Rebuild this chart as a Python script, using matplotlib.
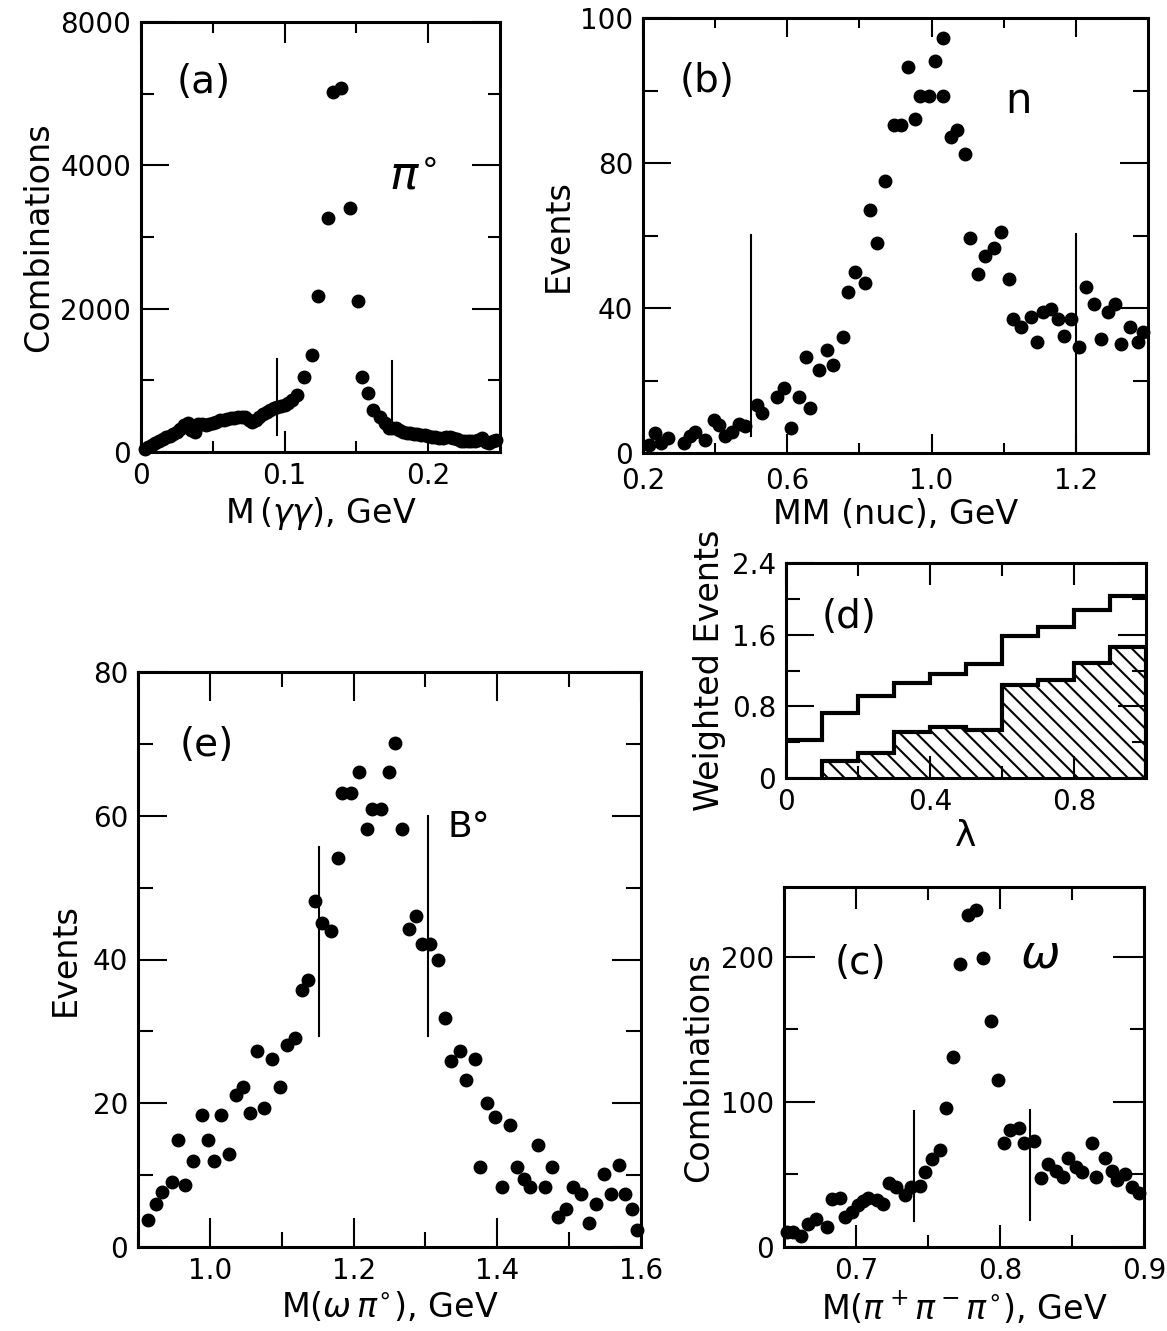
import numpy as np
import matplotlib
matplotlib.use('Agg')
import matplotlib.pyplot as plt

plt.rcParams['font.family'] = ['DejaVu Sans']
plt.rcParams['hatch.linewidth'] = 1.5
plt.rcParams['mathtext.fontset'] = 'dejavusans'

# ---- panel (a): M(gamma gamma) ----
a_x = [0.0025, 0.005, 0.0075, 0.010, 0.0125, 0.015, 0.0175, 0.020, 0.0225, 0.025,
       0.0275, 0.030, 0.0325, 0.035, 0.0375, 0.040, 0.0425, 0.045, 0.0475, 0.050,
       0.0525, 0.055, 0.0575, 0.060, 0.0625, 0.065, 0.0675, 0.070, 0.0725, 0.075,
       0.0775, 0.080, 0.0825, 0.085, 0.0875, 0.090, 0.0925, 0.095, 0.0975, 0.100,
       0.1025, 0.105, 0.1087, 0.1135, 0.1194, 0.1236, 0.130, 0.1336, 0.1395, 0.1454,
       0.151, 0.154, 0.158, 0.1615, 0.1665, 0.1700, 0.1725, 0.175, 0.1775, 0.180,
       0.1825, 0.185, 0.1875, 0.190, 0.1925, 0.195, 0.1975, 0.200, 0.2025, 0.205,
       0.2075, 0.210, 0.2125, 0.215, 0.2175, 0.220, 0.2225, 0.225, 0.2275, 0.230,
       0.2325, 0.235, 0.2375, 0.240, 0.2425, 0.245, 0.2475]
a_y = [40, 70, 100, 130, 155, 185, 205, 230, 255, 280,
       320, 380, 410, 300, 280, 390, 390, 370, 390, 410,
       425, 440, 450, 460, 475, 480, 490, 495, 485, 450,
       420, 450, 490, 525, 560, 590, 610, 625, 640, 660,
       690, 720, 790, 1050, 1350, 2180, 3270, 5030, 5080, 3400,
       2100, 1050, 825, 585, 495, 400, 333, 335, 330, 300,
       280, 270, 265, 258, 250, 240, 232, 222, 212, 205,
       198, 200, 210, 208, 200, 180, 160, 153, 153, 153,
       153, 165, 195, 140, 120, 150, 170]
a_cuts = [(0.0947, 234, 1293), (0.1746, 279, 1270)]

# ---- panel (b): MM(nuc) ----
b_x = [0.216, 0.232, 0.250, 0.268, 0.313, 0.329, 0.345, 0.372, 0.397, 0.410,
       0.426, 0.447, 0.466, 0.483, 0.515, 0.530, 0.571, 0.590, 0.611, 0.632,
       0.652, 0.662, 0.687, 0.711, 0.727, 0.754, 0.768, 0.788, 0.815, 0.829,
       0.848, 0.872, 0.896, 0.915, 0.934, 0.953, 0.967, 0.992, 1.010, 1.033,
       1.033, 1.055, 1.071, 1.092, 1.106, 1.130, 1.149, 1.173, 1.192, 1.214,
       1.227, 1.248, 1.275, 1.291, 1.308, 1.332, 1.351, 1.367, 1.386, 1.408,
       1.429, 1.450, 1.469, 1.490, 1.508, 1.526, 1.550, 1.571, 1.587]
b_y = [2.3, 5.5, 2.7, 4.1, 2.7, 4.6, 5.9, 3.7, 9.1, 7.8,
       4.6, 5.9, 8.0, 7.5, 13.2, 11.0, 15.5, 17.8, 6.8, 15.5,
       26.5, 12.3, 22.8, 28.3, 24.2, 32.0, 44.3, 49.8, 47.0, 67.1,
       58.0, 74.9, 90.4, 90.4, 106.4, 92.2, 98.4, 98.4, 108.2, 98.6,
       114.6, 87.2, 89.0, 82.6, 59.4, 49.3, 54.3, 56.6, 61.0, 47.9,
       37.0, 34.7, 37.4, 30.6, 38.8, 39.7, 37.0, 32.4, 37.0, 29.2,
       45.8, 41.1, 31.5, 38.8, 41.1, 30.0, 34.7, 30.6, 33.3]
b_cuts = [(0.499, 4.8, 60.2), (1.401, 0.0, 60.5)]

# ---- panel (d): weighted events vs lambda ----
d_edges = [0.0, 0.1, 0.2, 0.3, 0.4, 0.5, 0.6, 0.7, 0.8, 0.9, 1.0]
d_all = [0.42, 0.73, 0.92, 1.06, 1.16, 1.27, 1.585, 1.685, 1.88, 2.03]
d_sel = [0.0, 0.195, 0.284, 0.51, 0.57, 0.54, 1.04, 1.09, 1.28, 1.46]

# ---- panel (e): M(omega pi0) ----
e_x = [0.9145, 0.925, 0.934, 0.947, 0.956, 0.965, 0.976, 0.989, 0.997, 1.006,
       1.016, 1.027, 1.036, 1.046, 1.056, 1.066, 1.076, 1.086, 1.098, 1.107,
       1.118, 1.128, 1.137, 1.146, 1.156, 1.168, 1.178, 1.184, 1.196, 1.208,
       1.218, 1.226, 1.238, 1.249, 1.258, 1.267, 1.277, 1.287, 1.295, 1.306,
       1.318, 1.327, 1.336, 1.348, 1.357, 1.369, 1.376, 1.386, 1.397, 1.407,
       1.418, 1.427, 1.437, 1.445, 1.457, 1.466, 1.476, 1.485, 1.496, 1.505,
       1.517, 1.527, 1.537, 1.548, 1.558, 1.569, 1.578, 1.587, 1.595]
e_y = [3.8, 6.0, 7.7, 9.0, 14.9, 8.6, 11.9, 18.3, 14.9, 11.9,
       18.3, 13.0, 21.1, 22.2, 18.6, 27.3, 19.3, 26.1, 22.2, 28.1,
       29.1, 35.8, 37.2, 48.2, 45.1, 44.0, 54.1, 63.1, 63.1, 66.1,
       58.2, 61.0, 61.0, 66.1, 70.1, 58.2, 44.2, 46.1, 42.2, 42.2,
       39.9, 31.9, 25.9, 27.3, 23.2, 26.1, 11.2, 20.1, 18.1, 8.3,
       17.0, 11.2, 9.4, 8.3, 14.2, 8.3, 11.2, 4.2, 5.3, 8.3,
       7.4, 3.4, 6.0, 10.2, 7.4, 11.4, 7.4, 5.3, 2.4]
e_cuts = [(1.152, 29.4, 55.6), (1.303, 29.4, 60.0)]

# ---- panel (c): M(pi+ pi- pi0) ----
c_x = [0.6519, 0.6565, 0.6621, 0.667, 0.6725, 0.6797, 0.683, 0.689, 0.6925, 0.697,
       0.7016, 0.7050, 0.7086, 0.7145, 0.719, 0.7226, 0.728, 0.734, 0.7385, 0.7445,
       0.748, 0.7527, 0.758, 0.7624, 0.7675, 0.7725, 0.7776, 0.7836, 0.7883, 0.794,
       0.7987, 0.8026, 0.8072, 0.813, 0.8165, 0.8234, 0.8286, 0.8332, 0.8392, 0.8439,
       0.847, 0.8525, 0.857, 0.864, 0.8664, 0.8727, 0.878, 0.8815, 0.8866, 0.892,
       0.8966]
c_y = [10.5, 10.5, 7.6, 15.8, 19.0, 14.0, 32.8, 34.0, 20.8, 24.3,
       28.9, 31.5, 34.0, 32.3, 29.6, 44.2, 41.0, 35.7, 41.0, 41.9,
       51.8, 60.3, 66.7, 95.5, 131, 195, 229, 232, 199, 156,
       115, 71.7, 80.9, 82.3, 71.7, 73.0, 47.2, 57.5, 52.4, 48.3,
       61.6, 55.2, 51.8, 71.7, 48.3, 61.6, 52.4, 46.0, 50.2, 41.0,
       36.9]
c_cuts = [(0.7405, 18.0, 94.0), (0.8206, 18.5, 94.6)]

W, H = 1167, 1331
fig = plt.figure(figsize=(W / 100, H / 100), dpi=100)


def box(l, t, r, b):
    return [l / W, 1 - b / H, (r - l) / W, (b - t) / H]


def style(ax, xt, xl, xm, yt, yl, ym, xlen, ylen, xpad=7):
    # labelled ticks are long, the ones between are short
    ax.set_xticks(xt, xl)
    ax.set_xticks(xm, minor=True)
    ax.set_yticks(yt, yl)
    ax.set_yticks(ym, minor=True)
    for s in ax.spines.values():
        s.set_linewidth(2.2)
    ax.tick_params(which='both', direction='in', top=True, right=True, width=1.5,
                   labelsize=20, pad=7)
    ax.tick_params(axis='x', which='both', pad=xpad)
    ax.tick_params(axis='x', which='major', length=xlen[0])
    ax.tick_params(axis='x', which='minor', length=xlen[1])
    ax.tick_params(axis='y', which='major', length=ylen[0])
    ax.tick_params(axis='y', which='minor', length=ylen[1])


def dots(ax, x, y, cuts):
    ax.plot(x, y, 'o', color='k', ms=9, clip_on=False)
    for xc, y0, y1 in cuts:
        ax.plot([xc, xc], [y0, y1], color='k', lw=1.5)


# (a)
ax = fig.add_axes(box(141, 22, 500, 452))
dots(ax, a_x, a_y, a_cuts)
ax.set_xlim(0, 0.25)
ax.set_ylim(0, 6000)
style(ax, [0, 0.1, 0.2], ['0', '0.1', '0.2'], [0.05, 0.15],
      [0, 2000, 4000, 6000], ['0', '2000', '4000', '8000'], [1000, 3000, 5000],
      (15, 8), (20, 9))
ax.set_xlabel(r'M$\,(\gamma\gamma)$, GeV', fontsize=24)
ax.set_ylabel('Combinations', fontsize=24, labelpad=4)
ax.text(0.10, 0.86, '(a)', transform=ax.transAxes, fontsize=28, va='center')
ax.text(0.69, 0.64, r'$\pi^{\circ}$', transform=ax.transAxes, fontsize=34, va='center')

# (b)
ax = fig.add_axes(box(643, 18, 1148, 453))
dots(ax, b_x, b_y, b_cuts)
ax.set_xlim(0.2, 1.6)
ax.set_ylim(0, 120)
style(ax, [0.2, 0.6, 1.0, 1.4], ['0.2', '0.6', '1.0', '1.2'], [0.4, 0.8, 1.2],
      [0, 40, 80, 120], ['0', '40', '80', '100'], [20, 60, 100],
      (14, 7), (20, 11), xpad=10)
ax.set_xlabel('MM (nuc), GeV', fontsize=24, labelpad=2)
ax.set_ylabel('Events', fontsize=24, labelpad=4)
ax.text(0.073, 0.855, '(b)', transform=ax.transAxes, fontsize=28, va='center')
ax.text(0.717, 0.81, 'n', transform=ax.transAxes, fontsize=30, va='center')

# (d)
ax = fig.add_axes(box(786, 563, 1146, 778))
ax.stairs(d_sel[1:], d_edges[1:], baseline=0, fill=True, facecolor='white',
          edgecolor='k', hatch='\\\\', lw=0)
ax.stairs(d_sel[1:], d_edges[1:], baseline=0, color='k', lw=3)
ax.stairs(d_all, d_edges, baseline=None, color='k', lw=3)
ax.set_xlim(0, 1.0)
ax.set_ylim(0, 2.4)
style(ax, [0, 0.4, 0.8], ['0', '0.4', '0.8'], [0.2, 0.6],
      [0, 0.8, 1.6, 2.4], ['0', '0.8', '1.6', '2.4'], [0.4, 1.2, 2.0],
      (16, 9), (20, 10))
ax.set_xlabel('λ', fontsize=26, labelpad=2)
ax.set_ylabel('Weighted Events', fontsize=24, labelpad=4)
ax.text(0.10, 0.75, '(d)', transform=ax.transAxes, fontsize=28, va='center')

# (e)
ax = fig.add_axes(box(138, 672, 641, 1247))
dots(ax, e_x, e_y, e_cuts)
ax.set_xlim(0.9, 1.6)
ax.set_ylim(0, 80)
style(ax, [1.0, 1.2, 1.4, 1.6], ['1.0', '1.2', '1.4', '1.6'], [0.9, 1.1, 1.3, 1.5],
      [0, 20, 40, 60, 80], ['0', '20', '40', '60', '80'], [10, 30, 50, 70],
      (21, 11), (21, 11))
ax.set_xlabel(r'M$(\omega\,\pi^{\circ})$, GeV', fontsize=24)
ax.set_ylabel('Events', fontsize=24, labelpad=8)
ax.text(0.083, 0.873, '(e)', transform=ax.transAxes, fontsize=28, va='center')
ax.text(0.616, 0.73, 'B°', transform=ax.transAxes, fontsize=26, va='center')

# (c)
ax = fig.add_axes(box(784, 887, 1144, 1247))
dots(ax, c_x, c_y, c_cuts)
ax.set_xlim(0.65, 0.9)
ax.set_ylim(0, 248)
style(ax, [0.7, 0.8, 0.9], ['0.7', '0.8', '0.9'], [0.65, 0.75, 0.85],
      [0, 100, 200], ['0', '100', '200'], [50, 150],
      (16, 9), (22, 10))
ax.set_xlabel(r'M$(\pi^+\pi^-\pi^{\circ})$, GeV', fontsize=24)
ax.set_ylabel('Combinations', fontsize=24, labelpad=4)
ax.text(0.142, 0.79, '(c)', transform=ax.transAxes, fontsize=28, va='center')
ax.text(0.655, 0.81, r'$\omega$', transform=ax.transAxes, fontsize=34, va='center')

fig.savefig('out.png', dpi=100)
